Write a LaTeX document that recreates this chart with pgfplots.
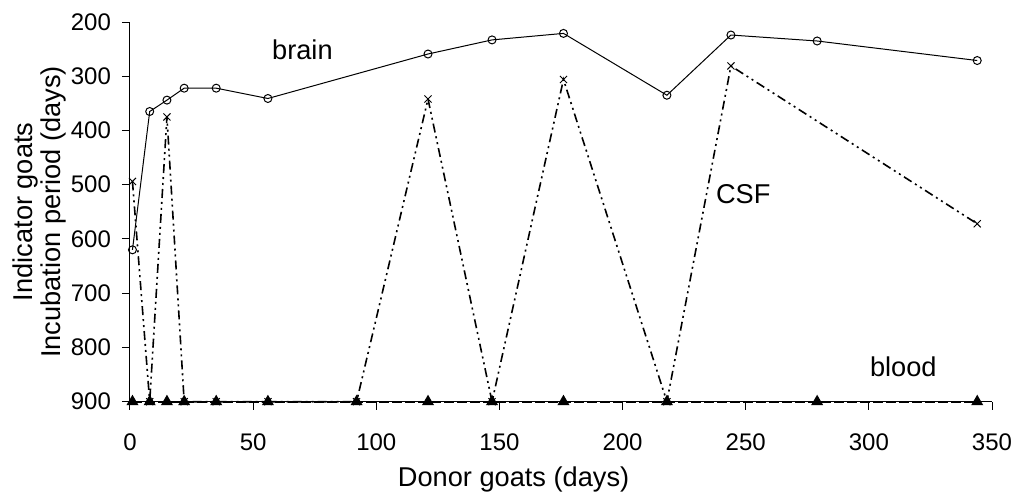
\documentclass[border=0pt]{standalone}
\usepackage{pgfplots}
\pgfplotsset{compat=1.18}
\usepackage{fontspec}
\setmainfont{Liberation Sans}
\begin{document}
\begin{tikzpicture}
\path[use as bounding box] (-65pt,-48.15pt) rectangle (442.5pt,200.85pt);
\begin{axis}[
  at={(0,0)}, anchor=south west,
  scale only axis, width=431pt, height=189.85pt,
  xmin=0, xmax=350, ymin=200, ymax=900,
  y dir=reverse,
  axis x line=bottom, axis y line=left,
  axis line style={-, line width=0.5pt},
  xtick={0,50,...,350}, ytick={200,300,...,900},
  tick align=outside, major tick length=4pt,
  tick style={black, line width=0.5pt},
  /pgf/number format/assume math mode=true,
  ticklabel style={font=\fontsize{12}{14}\selectfont},
  xticklabel style={yshift=-8.5pt},
  yticklabel style={xshift=-2pt},
  clip=false,
  xlabel={Donor goats (days)},
  ylabel={Indicator goats\\Incubation period (days)},
  every axis x label/.style={at={(axis description cs:0.445,-0.224)}, anchor=base, font=\fontsize{13.6}{15}\selectfont},
  every axis y label/.style={at={(axis description cs:-0.105,0.5)}, rotate=90, anchor=center, align=center, font=\fontsize{13.6}{14}\selectfont},
]
\addplot[black, line width=1pt, dash pattern=on 5pt off 1.5pt, mark=triangle*, mark size=2.5pt, mark options={solid, fill=black}] coordinates {
(1,900) (8,900) (15,900) (22,900) (35,900) (56,900) (92,900) (121,900) (147,900) (176,900) (218,900) (279,900) (344,900)};
\addplot[black, line width=0.8pt, dash pattern=on 4.5pt off 2pt on 1pt off 2pt on 1pt off 2pt, mark=x, mark size=2.5pt, mark options={solid, line width=0.5pt}] coordinates {
(1,494) (8,900) (15,375) (22,900) (35,900) (56,900) (92,900) (121,342) (147,900) (176,306) (218,900) (244,281) (344,572)};
\addplot[black, line width=0.5pt, mark=o, mark size=2pt, mark options={solid, fill=white}] coordinates {
(1,620) (8,365) (15,344) (22,322) (35,322) (56,341) (121,259) (147,233) (176,221) (218,335) (244,224) (279,235) (344,271)};
\node[anchor=base, font=\fontsize{13.6}{15}\selectfont] at (axis cs:70,269) {brain};
\node[anchor=base, font=\fontsize{13.6}{15}\selectfont] at (axis cs:249,535) {CSF};
\node[anchor=base, font=\fontsize{13.6}{15}\selectfont] at (axis cs:314,854) {blood};
\end{axis}
\end{tikzpicture}
\end{document}
